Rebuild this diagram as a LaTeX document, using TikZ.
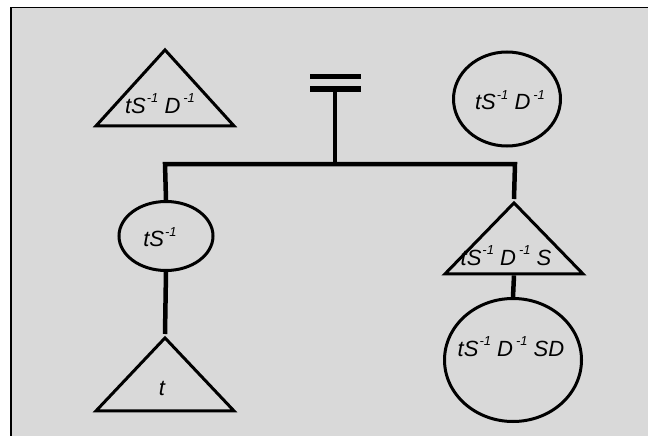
\documentclass[tikz,border=0pt]{standalone}
\usepackage{fontspec}
\setmainfont{Liberation Sans}
\usetikzlibrary{shapes.geometric}
\definecolor{kinbg}{RGB}{217,217,217}
\newcommand{\kinsup}[1]{\kern1pt\raisebox{10.5pt}{\fontsize{13}{13}\selectfont #1}}
\tikzset{
  kin/.style={draw=black, line width=3pt, inner sep=0pt},
  male/.style={kin, isosceles triangle, shape border rotate=90,
    isosceles triangle stretches, anchor=apex},
  female/.style={kin, ellipse},
  kintext/.style={inner sep=0pt, anchor=base, font=\fontsize{22}{24}\selectfont\itshape},
  tie/.style={line width=4.5pt, line join=miter},
  bar/.style={line width=5pt}
}
\begin{document}
\begin{tikzpicture}[x=1pt,y=-1pt]
  \useasboundingbox (0,0) rectangle (648,436);
  \fill[white] (0,0) rectangle (648,436);
  \fill[kinbg] (10,7) rectangle (648,436);
  \draw[line width=1.5pt] (10.75,436) -- (10.75,7.75) -- (648,7.75);

  % parents
  \node[male, minimum width=138pt, minimum height=76pt] (father) at (165,46) {};
  \node[kintext] (fatherlbl) at (160,113) {tS\kinsup{-1} D\kern2pt\kinsup{-1}};
  \node[female, minimum width=107pt, minimum height=94pt] (mother) at (507,99) {};
  \node[kintext] (motherlbl) at (510,110) {tS\kinsup{-1} D\kern2pt\kinsup{-1}};

  % marriage sign
  \draw[bar] (310,77) -- (361,77);
  \draw[bar] (310,89) -- (361,89);
  \coordinate (wed) at (335,89);
  \coordinate (sibl) at (165,164);
  \coordinate (sibr) at (515,164);

  % children
  \node[female, minimum width=94pt, minimum height=69pt] (daughter) at (166,236) {};
  \node[kintext] (daughterlbl) at (160,246.5) {tS\kinsup{-1}};
  \node[male, minimum width=138pt, minimum height=73pt] (ego) at (165,334) {};
  \node[kintext] (egolbl) at (162,395) {t};
  \node[male, minimum width=138pt, minimum height=71pt] (son) at (514,199) {};
  \node[kintext] (sonlbl) at (506,265) {tS\kinsup{-1} D\kern2pt\kinsup{-1} S};
  \node[female, minimum width=137pt, minimum height=123pt] (sondaughter) at (513,360) {};
  \node[kintext] (sondaughterlbl) at (511,356) {tS\kinsup{-1} D\kern2pt\kinsup{-1} SD};

  \draw[tie] (wed) -- (wed |- sibl);
  \draw[tie] (daughter.north) -- (sibl) -- (sibr) -- (son.apex);
  \draw[tie] (daughter.south) -- (ego.apex);
  \draw[tie] (son.south) -- (sondaughter.north);
\end{tikzpicture}
\end{document}
